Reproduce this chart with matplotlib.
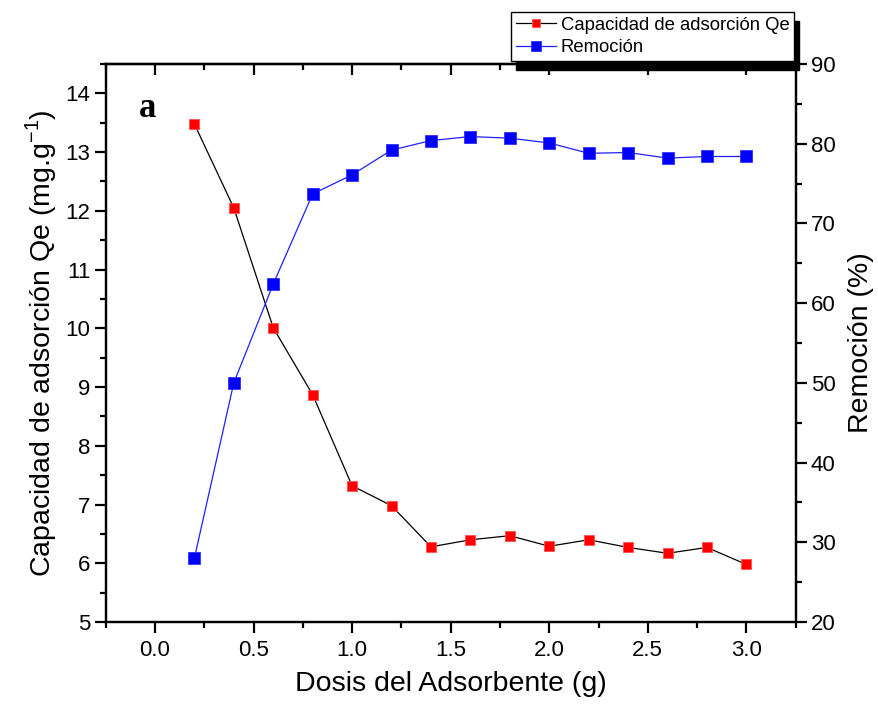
import numpy as np
import matplotlib
matplotlib.use('Agg')
import matplotlib.pyplot as plt
from matplotlib.ticker import MultipleLocator

plt.rcParams['font.family'] = ['Liberation Sans', 'DejaVu Sans']

# Dosis del adsorbente (g)
dosis = [0.2, 0.4, 0.6, 0.8, 1.0, 1.2, 1.4, 1.6, 1.8, 2.0, 2.2, 2.4, 2.6, 2.8, 3.0]
# Capacidad de adsorcion Qe (mg/g)
qe = [13.48, 12.05, 10.01, 8.87, 7.32, 6.98, 6.28, 6.40, 6.47, 6.29, 6.40, 6.27, 6.17, 6.27, 5.98]
# Remocion (%)
remocion = [28.0, 50.0, 62.4, 73.7, 76.1, 79.2, 80.4, 80.9, 80.7, 80.1, 78.8, 78.9, 78.2, 78.4, 78.4]

fig = plt.figure(figsize=(8.79, 7.13), dpi=100)
ax = fig.add_axes([0.1202, 0.1276, 0.785, 0.7826])
ax2 = ax.twinx()

l1, = ax.plot(dosis, qe, color='black', lw=0.9, marker='s', ms=7.5,
              mfc='#ff0000', mec='#ff5050', mew=0.6, zorder=3,
              label='Capacidad de adsorción Qe')
l2, = ax2.plot(dosis, remocion, color='#2020ff', lw=0.9, marker='s', ms=8,
               mfc='#0000ff', mec='#3030ff', mew=0.6, zorder=3,
               label='Remoción')

ax.set_xlim(-0.25, 3.25)
ax.set_ylim(5, 14.5)
ax2.set_ylim(20, 90)

ax.xaxis.set_major_locator(MultipleLocator(0.5))
ax.xaxis.set_minor_locator(MultipleLocator(0.25))
ax.yaxis.set_major_locator(MultipleLocator(1))
ax.yaxis.set_minor_locator(MultipleLocator(0.5))
ax2.yaxis.set_major_locator(MultipleLocator(10))
ax2.yaxis.set_minor_locator(MultipleLocator(5))

for a in (ax, ax2):
    for s in a.spines.values():
        s.set_linewidth(1.6)

ax.tick_params(axis='x', which='both', direction='out', bottom=True, top=False,
               labelsize=16, pad=5)
ax.tick_params(axis='y', which='both', direction='out', labelsize=16, pad=3)
ax.tick_params(which='major', length=8, width=1.6)
ax.tick_params(which='minor', length=4.5, width=1.6)
ax2.tick_params(axis='y', which='both', direction='out', labelsize=16, pad=3)
ax2.tick_params(which='major', length=8, width=1.6)
ax2.tick_params(which='minor', length=4.5, width=1.6)

# ticks on top axis pointing inward
sec = ax.secondary_xaxis('top')
sec.xaxis.set_major_locator(MultipleLocator(0.5))
sec.xaxis.set_minor_locator(MultipleLocator(0.25))
sec.tick_params(which='both', direction='in', labeltop=False, width=1.6)
sec.tick_params(which='major', length=8)
sec.tick_params(which='minor', length=4.5)
sec.spines['top'].set_linewidth(1.6)

ax.set_xlabel('Dosis del Adsorbente (g)', fontsize=20.5, labelpad=7)
ax.set_ylabel('Capacidad de adsorción Qe (mg.g$^{\\mathregular{-1}}$)', fontsize=20.5, labelpad=5)
ax2.set_ylabel('Remoción (%)', fontsize=20.5, labelpad=9)

ax.text(-0.035, 13.74, 'a', fontsize=25, fontweight='bold', family='Liberation Serif',
        ha='center', va='center')

leg = fig.legend(handles=[l1, l2], loc='upper left', bbox_to_anchor=(511 / 879, 1 - 12 / 713),
                 bbox_transform=fig.transFigure, fontsize=13.3, frameon=True, fancybox=False,
                 edgecolor='black', framealpha=1, handlelength=2.2, handletextpad=0.25,
                 borderpad=0.25, labelspacing=0.3, borderaxespad=0, markerscale=0.85,
                 shadow={'ox': 3.3, 'oy': -6.5, 'color': 'black', 'alpha': 1})
leg.get_frame().set_linewidth(1.0)

fig.savefig('out.png', dpi=100)
